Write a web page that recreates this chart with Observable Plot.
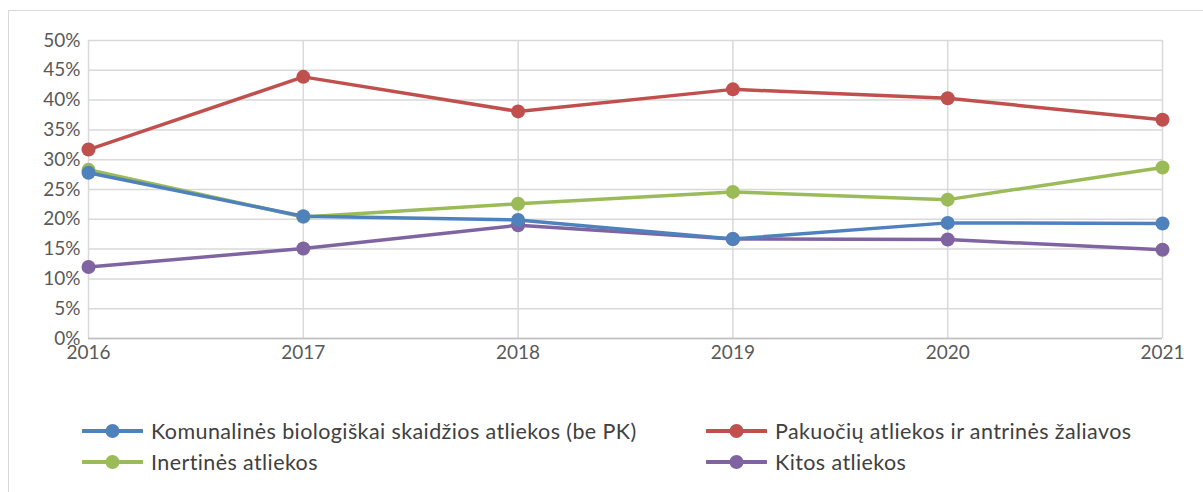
<!DOCTYPE html>
<html>
<head>
<meta charset="utf-8">
<script src="https://cdn.jsdelivr.net/npm/d3@7"></script>
<script src="https://cdn.jsdelivr.net/npm/@observablehq/plot@0.6"></script>
<style>
  html, body { margin: 0; padding: 0; background: #fff; }
  body { width: 1203px; height: 492px; position: relative; overflow: hidden; font-family: Lato, "Open Sans", sans-serif; }
  #frame { position: absolute; left: 8px; top: 10px; width: 1300px; height: 600px; border-left: 1.5px solid #d9d9d9; border-top: 1.5px solid #d9d9d9; }
  #chart { position: absolute; left: 0; top: 0; }
  .legend-item { position: absolute; display: flex; align-items: center; font-size: 21.5px; letter-spacing: 0.4px; color: #404040; white-space: nowrap; }
  .legend-item svg { margin-right: 8px; }
</style>
</head>
<body>
<div id="frame"></div>
<div id="chart"></div>
<div id="legend"></div>
<script>
const years = [2016, 2017, 2018, 2019, 2020, 2021];
const seriesNames = [
  "Komunalinės biologiškai skaidžios atliekos (be PK)",
  "Pakuočių atliekos ir antrinės žaliavos",
  "Inertinės atliekos",
  "Kitos atliekos"
];
const seriesColors = ["#4f81bd", "#c0504d", "#9bbb59", "#8064a2"];
const komunalines = [0.278, 0.205, 0.199, 0.167, 0.194, 0.193];
const pakuociu = [0.317, 0.439, 0.381, 0.418, 0.403, 0.367];
const inertines = [0.283, 0.204, 0.226, 0.246, 0.233, 0.287];
const kitos = [0.120, 0.151, 0.190, 0.167, 0.166, 0.149];
const yTicks = [0, 0.05, 0.10, 0.15, 0.20, 0.25, 0.30, 0.35, 0.40, 0.45, 0.50];

const values = [komunalines, pakuociu, inertines, kitos];
// Excel draws first series on top: build in reverse order
const data = [];
for (let s = values.length - 1; s >= 0; s--) {
  years.forEach((yr, i) => data.push({series: seriesNames[s], year: yr, value: values[s][i]}));
}

const chart = Plot.plot({
  width: 1203,
  height: 380,
  marginLeft: 88,
  marginRight: 41,
  marginTop: 40,
  marginBottom: 42,
  style: {fontFamily: "Lato, 'Open Sans', sans-serif", background: "transparent"},
  x: {domain: [2016, 2021], ticks: years, tickFormat: "d", label: null},
  y: {domain: [0, 0.5], ticks: yTicks, tickFormat: d3.format(".0%"), label: null},
  color: {domain: seriesNames, range: seriesColors},
  marks: [
    Plot.gridY(yTicks, {stroke: "#d9d9d9", strokeOpacity: 1, strokeWidth: 1.5}),
    Plot.gridX(years, {stroke: "#d9d9d9", strokeOpacity: 1, strokeWidth: 1.5}),
    Plot.ruleY([0], {stroke: "#bfbfbf", strokeWidth: 1.5}),
    Plot.axisY(yTicks, {tickSize: 0, tickPadding: 8, fontSize: 19, fill: "#595959", tickFormat: d3.format(".0%"), label: null}),
    Plot.axisX(years, {tickSize: 0, tickPadding: 7, fontSize: 19, fill: "#595959", tickFormat: "d", label: null}),
    Plot.line(data, {x: "year", y: "value", z: "series", stroke: "series", strokeWidth: 3.5}),
    Plot.dot(data, {x: "year", y: "value", fill: "series", r: 7})
  ]
});
document.getElementById("chart").appendChild(chart);

// Legend
const legendPos = [
  {left: 82, top: 431},
  {left: 706, top: 431},
  {left: 82, top: 462},
  {left: 706, top: 462}
];
const legend = document.getElementById("legend");
seriesNames.forEach((name, i) => {
  const item = document.createElement("div");
  item.className = "legend-item";
  item.style.left = legendPos[i].left + "px";
  item.style.top = (legendPos[i].top - 13) + "px";
  item.style.height = "26px";
  item.innerHTML = `<svg width="61" height="26"><line x1="1" x2="60" y1="13" y2="13" stroke="${seriesColors[i]}" stroke-width="4" stroke-linecap="round"/><circle cx="30.5" cy="13" r="7" fill="${seriesColors[i]}"/></svg>`;
  const span = document.createElement("span");
  span.textContent = name;
  item.appendChild(span);
  legend.appendChild(item);
});
</script>
</body>
</html>
